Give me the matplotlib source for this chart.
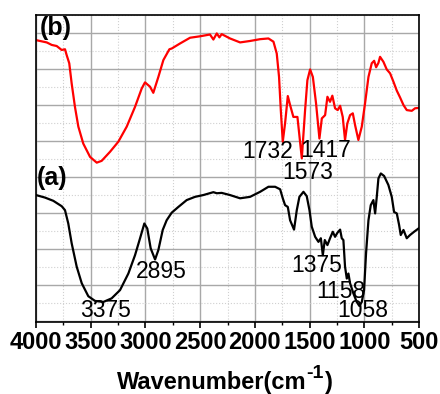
import numpy as np
import matplotlib
matplotlib.use("Agg")
import matplotlib.pyplot as plt
from matplotlib.ticker import MultipleLocator

# 曲線 (b): 赤
wn_b = [3994, 3902, 3856, 3811, 3765, 3735, 3720, 3696, 3674, 3644, 3613, 3568,
        3506, 3445, 3400, 3324, 3248, 3171, 3095, 3034, 3004, 2958, 2928, 2882,
        2836, 2781, 2760, 2684, 2592, 2501, 2410, 2379, 2348, 2324, 2303, 2227,
        2135, 2044, 1952, 1876, 1830, 1800, 1779, 1763, 1745, 1724, 1699, 1678,
        1648, 1611, 1571, 1541, 1520, 1495, 1470, 1441, 1410, 1388, 1358, 1337,
        1313, 1292, 1267, 1243, 1221, 1197, 1176, 1155, 1130, 1105, 1084, 1054,
        1023, 993, 962, 932, 910, 892, 871, 856, 825, 795, 764, 734, 703, 673,
        642, 612, 566, 536, 505]
t_b = [78.1, 77.5, 76.8, 76.5, 75.4, 75.6, 74.0, 71.7, 66.1, 59.6, 54.1, 49.4,
       45.7, 44.1, 44.6, 47.1, 49.9, 54.1, 59.6, 64.7, 66.4, 65.2, 63.5, 67.9,
       72.6, 75.6, 75.8, 77.2, 78.8, 79.2, 79.7, 78.3, 80.0, 78.9, 79.8, 78.6,
       77.5, 77.9, 78.4, 78.6, 77.7, 74.4, 67.9, 58.7, 49.9, 55.0, 62.6, 60.1,
       56.8, 56.8, 45.3, 58.7, 67.0, 70.0, 67.9, 60.6, 50.8, 56.4, 57.3, 62.4,
       61.0, 62.7, 59.2, 58.7, 59.9, 56.8, 50.4, 55.0, 57.3, 57.8, 54.5, 50.4,
       54.1, 60.6, 67.9, 71.7, 72.4, 70.6, 71.8, 73.5, 72.1, 70.0, 68.9, 66.6,
       64.1, 62.2, 60.1, 58.7, 58.5, 59.2, 59.3]

# 曲線 (a): 黒
wn_a = [4000, 3918, 3842, 3765, 3735, 3705, 3674, 3628, 3582, 3522, 3461, 3385,
        3309, 3232, 3156, 3095, 3049, 3010, 2983, 2952, 2912, 2882, 2842, 2806,
        2760, 2699, 2623, 2547, 2471, 2379, 2348, 2303, 2227, 2135, 2044, 1952,
        1876, 1815, 1769, 1745, 1724, 1699, 1678, 1642, 1617, 1593, 1556, 1526,
        1501, 1480, 1449, 1419, 1397, 1379, 1361, 1337, 1313, 1288, 1267, 1246,
        1221, 1206, 1191, 1176, 1160, 1145, 1130, 1100, 1069, 1045, 1023, 1002,
        984, 962, 941, 917, 901, 886, 871, 849, 819, 780, 749, 728, 703, 682,
        667, 642, 612, 582, 545, 505]
t_a = [35.1, 34.4, 33.5, 32.0, 30.9, 27.2, 21.7, 15.2, 10.6, 7.0, 5.7, 5.4,
       6.4, 8.7, 13.3, 18.4, 23.1, 27.2, 25.8, 20.3, 17.2, 19.8, 25.4, 28.1,
       30.2, 31.8, 33.7, 34.6, 35.1, 35.9, 35.6, 35.7, 35.1, 34.2, 34.6, 36.0,
       37.4, 37.4, 36.7, 34.2, 32.3, 31.8, 28.1, 25.5, 30.9, 34.6, 36.0, 34.8,
       30.9, 26.3, 23.5, 22.1, 23.1, 18.4, 22.6, 21.2, 23.1, 24.9, 23.5, 24.6,
       25.5, 23.1, 22.6, 15.2, 11.9, 13.3, 10.6, 7.8, 5.4, 4.3, 5.4, 8.7,
       18.9, 28.1, 32.3, 33.7, 30.0, 34.6, 39.7, 41.1, 40.4, 37.9, 34.6, 30.4,
       30.0, 26.8, 24.0, 25.4, 23.1, 24.0, 24.9, 25.8]

# ピーク位置のラベル
peak_labels = ["1732", "1417", "1573", "2895", "3375", "1375", "1158", "1058"]
peak_x = [1884, 1349, 1518, 2857, 3360, 1431, 1217, 1011]
peak_y = [47.1, 47.4, 41.5, 13.8, 3.1, 15.4, 8.4, 3.1]

plt.rcParams['font.family'] = ['Liberation Sans', 'DejaVu Sans']

fig = plt.figure(figsize=(4.4, 3.94), dpi=100)
ax = fig.add_axes([0.0818, 0.1815, 0.8705, 0.7812])

ax.plot(wn_b, t_b, color='#ff0000', lw=1.6)
ax.plot(wn_a, t_a, color='black', lw=1.6)

for s, x, y in zip(peak_labels, peak_x, peak_y):
    ax.text(x, y, s, fontsize=16.5, ha='center', va='center')

ax.text(3817, 81.5, "(b)", fontsize=18, fontweight='bold', ha='center', va='center')
ax.text(3854, 39.8, "(a)", fontsize=18, fontweight='bold', ha='center', va='center')

ax.set_xlim(4000, 500)
ax.set_ylim(-0.3, 85.2)
ax.xaxis.set_major_locator(MultipleLocator(500))
ax.xaxis.set_minor_locator(MultipleLocator(250))
ax.yaxis.set_major_locator(MultipleLocator(10))
ax.yaxis.set_minor_locator(MultipleLocator(5))

ax.grid(which='major', color='#a8a8a8', lw=1.0, ls='-')
ax.grid(which='minor', color='#d0d0d0', lw=0.8, ls=':')
ax.set_axisbelow(True)

ax.tick_params(axis='x', which='major', length=4, width=1.2, direction='out')
ax.tick_params(axis='x', which='minor', length=2.5, width=1.0, direction='out')
ax.tick_params(axis='y', which='both', length=0, labelleft=False)
ax.tick_params(axis='x', labelsize=17, pad=2)
for lbl in ax.get_xticklabels():
    lbl.set_fontweight('bold')
for sp in ax.spines.values():
    sp.set_linewidth(1.2)

# x軸ラベル: 上付き "-1" を大きめに手で組む
W, H = fig.get_size_inches() * fig.dpi
r = fig.canvas.get_renderer()
base = 1 - 389 / H
t1 = fig.text(0, base, "Wavenumber(cm", fontsize=17, fontweight='bold', va='baseline')
t2 = fig.text(0, base + 11 / H, "-1", fontsize=14, fontweight='bold', va='baseline')
t3 = fig.text(0, base, ")", fontsize=17, fontweight='bold', va='baseline')
w1 = t1.get_window_extent(r).width
w2 = t2.get_window_extent(r).width
w3 = t3.get_window_extent(r).width
x0 = (224 - (w1 + w2 + w3) / 2)
t1.set_x(x0 / W)
t2.set_x((x0 + w1) / W)
t3.set_x((x0 + w1 + w2 + 1) / W)

fig.savefig("out.png", dpi=100)
